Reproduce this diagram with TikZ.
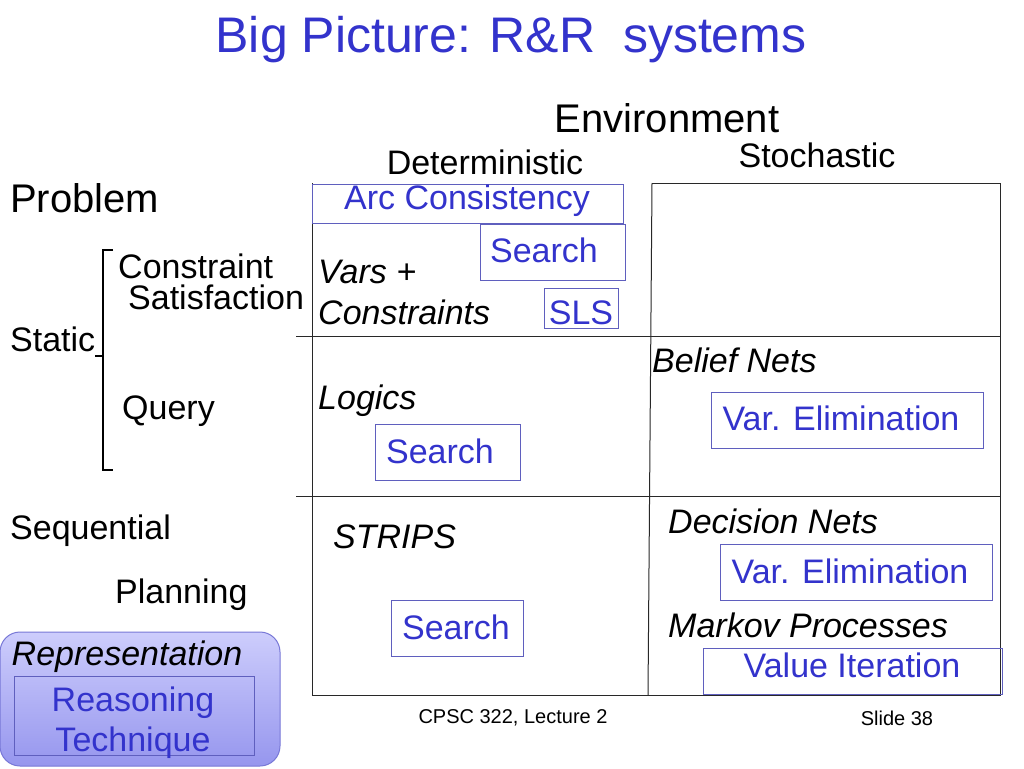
\documentclass[tikz,border=0pt]{standalone}
\usepackage{fontspec}
\setmainfont{Liberation Sans}
\definecolor{btext}{RGB}{51,51,204}
\definecolor{bline}{RGB}{95,95,190}
\definecolor{gridc}{RGB}{40,40,40}
\definecolor{legtop}{RGB}{205,205,252}
\definecolor{legbot}{RGB}{150,150,238}
\definecolor{legline}{RGB}{120,120,215}
\begin{document}
\begin{tikzpicture}[x=1pt,y=-1pt,
  fs/.style={font=\fontsize{34}{38}\selectfont},
  plain/.style={fs,inner sep=0pt,text=black},
  ital/.style={font=\fontsize{34}{38}\selectfont\itshape,inner sep=0pt,text=black},
  btxt/.style={fs,inner sep=0pt,text=btext},
  bbox/.style={draw=bline,line width=1pt,inner sep=0pt},
  gline/.style={draw=gridc,line width=1pt}]
\useasboundingbox (0,0) rectangle (1024,768);
\fill[white] (0,0) rectangle (1024,768);
% title
\node[font=\fontsize{50}{56}\selectfont,text=btext,inner sep=0pt] (title) at (511,40) {Big Picture: R\&R\ \ systems};
% headings
\node[font=\fontsize{40}{44}\selectfont,inner sep=0pt] (env) at (667,118) {Environment};
\node[plain] (det) at (485,162) {Deterministic};
\node[plain] (sto) at (817,155) {Stochastic};
\node[font=\fontsize{40}{44}\selectfont,inner sep=0pt,anchor=west] (prob) at (10,198) {Problem};
\node[plain,anchor=west] (cons) at (118,266) {Constraint};
\node[plain,anchor=west] (sat) at (128,297) {Satisfaction};
\node[plain,anchor=west] (stat) at (10,339) {Static};
\node[plain,anchor=west] (query) at (122,411) {Query};
\node[plain,anchor=west] (seq) at (10,531) {Sequential};
\node[plain,anchor=west] (plan) at (115,595) {Planning};
% bracket
\coordinate (bt) at (103,250);
\coordinate (bb) at (103,470);
\draw[line width=2.8pt] ([xshift=10pt]bt) -- (bt) -- (bb) -- ([xshift=10pt]bb);
\draw[line width=2.8pt] (103,356) -- (95,356);
% grid
\coordinate (tl) at (312,183);
\coordinate (tm) at (652,183);
\coordinate (tr) at (1000,183);
\coordinate (bl) at (312,695);
\coordinate (bm) at (648,695);
\coordinate (br) at (1000,695);
\coordinate (h1l) at (296,336);
\coordinate (h1r) at (1000,336);
\coordinate (h2l) at (296,496);
\coordinate (h2r) at (1000,496);
\draw[gline] (tl) -- (bl);
\draw[gline] (tm) -- (tr) -- (br) -- (bl);
\draw[gline] (tm) -- (bm);
\draw[gline] (h1l) -- (h1r);
\draw[gline] (h2l) -- (h2r);
% cell labels
\node[ital,anchor=west] (vars) at (318,272) {Vars +};
\node[ital,anchor=west] (constr) at (318,312) {Constraints};
\node[ital,anchor=west] (logics) at (318,401) {Logics};
\node[ital,anchor=west] (strips) at (333,537) {STRIPS};
\node[ital,anchor=west] (belief) at (652,360) {Belief Nets};
\node[ital,anchor=west] (dec) at (668,521) {Decision Nets};
\node[ital,anchor=west] (mark) at (668,625) {Markov Processes};
% blue boxes
\node[bbox,minimum width=311pt,minimum height=39pt] (arcb) at (467.5,203.5) {};
\node[btxt] (arc) at (467,201) {Arc Consistency};
\node[bbox,minimum width=145pt,minimum height=56pt] (s1b) at (552.5,252) {};
\node[btxt] (s1) at (544,250) {Search};
\node[bbox,minimum width=74pt,minimum height=40pt] (slsb) at (581,308) {};
\node[btxt] (sls) at (581,313) {SLS};
\node[bbox,minimum width=145pt,minimum height=56pt] (s2b) at (447.5,452) {};
\node[btxt] (s2) at (440,451) {Search};
\node[bbox,minimum width=272pt,minimum height=56pt] (ve1b) at (847,420) {};
\node[btxt] (ve1) at (841,418) {Var. Elimination};
\node[bbox,minimum width=272pt,minimum height=56pt] (ve2b) at (856,572) {};
\node[btxt] (ve2) at (850,571) {Var. Elimination};
\node[bbox,minimum width=132pt,minimum height=56pt] (s3b) at (457,628) {};
\node[btxt] (s3) at (456,627) {Search};
\node[bbox,minimum width=299pt,minimum height=46pt] (vib) at (852.5,671) {};
\node[btxt] (vi) at (852,665) {Value Iteration};
% legend
\node[draw=legline,line width=1pt,rounded corners=20pt,top color=legtop,bottom color=legbot,
  minimum width=280pt,minimum height=134pt,inner sep=0pt] (leg) at (140,699) {};
\node[ital] (rep) at (127,657) {Representation};
\node[draw=bline,line width=1pt,minimum width=240pt,minimum height=79pt,inner sep=0pt] (legin) at (134,715.5) {};
\node[btxt] (reas) at (133,703) {Reasoning};
\node[btxt] (tech) at (133,743) {Technique};
% footer
\node[font=\fontsize{20}{24}\selectfont,inner sep=0pt] (foot) at (513,718) {CPSC 322, Lecture 2};
\node[font=\fontsize{20}{24}\selectfont,inner sep=0pt] (slide) at (897,718) {Slide 38};
\end{tikzpicture}
\end{document}
